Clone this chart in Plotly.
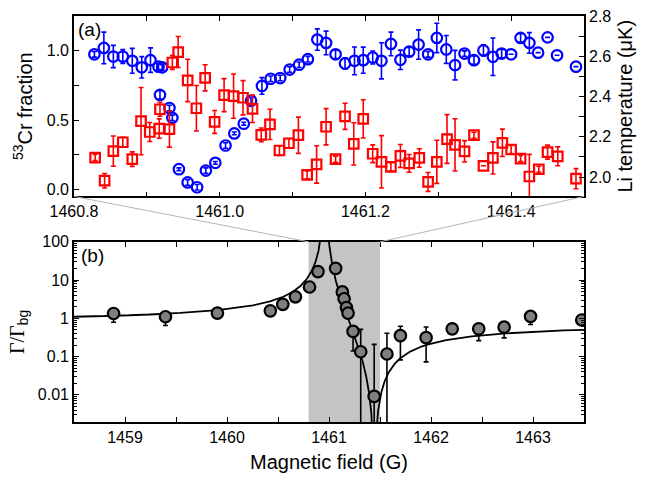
import numpy as np
import plotly.graph_objects as go

# ---------------- (a) zoom on the resonance region ----------------
field_cr = [1460.828, 1460.841, 1460.854, 1460.867, 1460.880, 1460.893, 1460.905, 1460.916,
            1460.921, 1460.918, 1460.931, 1460.935, 1460.944, 1460.956, 1460.969, 1460.981,
            1460.994, 1461.008, 1461.020, 1461.033, 1461.043, 1461.058, 1461.070, 1461.083,
            1461.096, 1461.109, 1461.121, 1461.134, 1461.146, 1461.159, 1461.172, 1461.185,
            1461.197, 1461.210, 1461.222, 1461.235, 1461.248, 1461.260, 1461.273, 1461.286,
            1461.298, 1461.311, 1461.323, 1461.336, 1461.349, 1461.362, 1461.375, 1461.387,
            1461.400, 1461.413, 1461.425, 1461.437, 1461.450, 1461.463, 1461.489]
cr_fraction = [0.974, 1.020, 0.958, 0.958, 0.927, 0.880, 0.932, 0.885,
               0.880, 0.681, 0.587, 0.516, 0.146, 0.051, 0.016, 0.136,
               0.192, 0.317, 0.404, 0.474, 0.639, 0.746, 0.798, 0.803,
               0.864, 0.899, 0.939, 1.080, 1.056, 0.974, 0.908, 0.927,
               0.932, 0.951, 0.927, 1.049, 0.934, 0.993, 1.044, 0.974,
               1.092, 1.009, 0.896, 0.979, 0.932, 1.002, 0.956, 0.979,
               0.974, 1.092, 1.056, 0.986, 1.096, 0.967, 0.885]
cr_fraction_err = [0.02, 0.114, 0.08, 0.05, 0.09, 0.077, 0.088, 0.02,
                   0.02, 0.03, 0.02, 0.02, 0.01, 0.02, 0.02, 0.02,
                   0.01, 0.02, 0.01, 0.01, 0.02, 0.06, 0.02, 0.02,
                   0.02, 0.02, 0.02, 0.077, 0.085, 0.03, 0.04, 0.10,
                   0.094, 0.047, 0.13, 0.085, 0.07, 0.03, 0.106, 0.02,
                   0.106, 0.10, 0.106, 0.02, 0.03, 0.04, 0.135, 0.03,
                   0.0, 0.03, 0.074, 0.0, 0.0, 0.0, 0.0]

field_li = [1460.829, 1460.842, 1460.854, 1460.867, 1460.880, 1460.892, 1460.904, 1460.917,
            1460.918, 1460.931, 1460.935, 1460.943, 1460.956, 1460.968, 1460.980, 1460.993,
            1461.006, 1461.019, 1461.032, 1461.045, 1461.057, 1461.069, 1461.082, 1461.095,
            1461.108, 1461.120, 1461.133, 1461.146, 1461.159, 1461.172, 1461.184, 1461.197,
            1461.210, 1461.222, 1461.235, 1461.248, 1461.260, 1461.274, 1461.286, 1461.298,
            1461.312, 1461.323, 1461.336, 1461.349, 1461.362, 1461.375, 1461.388, 1461.400,
            1461.413, 1461.425, 1461.438, 1461.450, 1461.464, 1461.489]
li_temp = [2.097, 1.982, 2.129, 2.173, 2.089, 2.278, 2.224, 2.241,
           2.337, 2.238, 2.569, 2.621, 2.480, 2.342, 2.493, 2.274,
           2.407, 2.402, 2.394, 2.339, 2.210, 2.262, 2.132, 2.168,
           2.208, 2.011, 2.063, 2.250, 2.089, 2.302, 2.165, 2.289,
           2.116, 2.076, 2.051, 2.105, 2.068, 2.095, 1.976, 2.076,
           2.189, 2.160, 2.128, 2.208, 2.056, 2.095, 2.170, 2.137,
           2.092, 2.003, 2.039, 2.124, 2.103, 1.992]
li_temp_err = [0.015, 0.036, 0.075, 0.025, 0.036, 0.167, 0.047, 0.048,
               0.035, 0.089, 0.034, 0.077, 0.105, 0.113, 0.065, 0.057,
               0.082, 0.11, 0.085, 0.068, 0.034, 0.075, 0.024, 0.024,
               0.09, 0.02, 0.093, 0.09, 0.015, 0.065, 0.105, 0.095,
               0.044, 0.13, 0.02, 0.057, 0.044, 0.046, 0.047, 0.107,
               0.121, 0.13, 0.053, 0.015, 0.0, 0.08, 0.068, 0.02,
               0.015, 0.11, 0.015, 0.035, 0.047, 0.05]

# ---------------- (b) loss rate over the wide scan ----------------
field_rate = [1458.888, 1459.397, 1459.906, 1460.425, 1460.547, 1460.671, 1460.809, 1460.892,
              1461.065, 1461.131, 1461.148, 1461.171, 1461.187, 1461.236, 1461.311, 1461.443,
              1461.568, 1461.700, 1461.952, 1462.208, 1462.468, 1462.717, 1462.976, 1463.478]
rate_ratio = [1.34, 1.10, 1.37, 1.57, 2.33, 3.66, 6.6, 16.7,
              20.3, 4.9, 3.26, 1.91, 1.37, 0.455, 0.134, 0.0091,
              0.117, 0.352, 0.313, 0.532, 0.532, 0.588, 1.12, 0.905]
rate_err_up = [0.4, 0.3, 0.15, 0.3, 0.4, 0.7, 1.2, 3.0,
               3.0, 0.8, 0.6, 0.3, 0.3, 0.135, 0.38, 0.2,
               0.29, 0.27, 0.28, 0.1, 0.19, 0.12, 0.2, 0.1]
rate_err_down = [0.55, 0.45, 0.15, 0.3, 0.4, 0.7, 1.2, 3.0,
                 3.0, 0.8, 0.6, 0.3, 0.3, 0.315, 0.2, 0.02,
                 0.2, 0.27, 0.24, 0.1, 0.27, 0.28, 0.43, 0.1]

# fit: Gamma/Gamma_bg = c * (1 - Delta / (B - B0))^2
fit_B0 = 1460.96
fit_delta = 0.485
fit_scale = 0.768

rate_ticks = [0.01, 0.1, 1, 10, 100]
rate_ticktext = ["0.01", "0.1", "1", "10", "100"]

FONT = "Liberation Sans, Arial, Helvetica, sans-serif"
W, H = 647, 480
ML, MR, MT, MB = 74, 63, 8, 58
TOP_DOM = [0.5556, 1.0]
BOT_DOM = [0.0, 0.4437]
xb_range = [1458.5, 1463.5]
xa_range = [1460.8, 1461.5]

fig = go.Figure()

# (a) 53Cr fraction, blue open circles
fig.add_trace(go.Scatter(
    x=field_cr, y=cr_fraction, mode="markers", xaxis="x", yaxis="y",
    marker=dict(symbol="circle-open", size=10.5, color="#0000ff", line=dict(width=2.2, color="#0000ff")),
    error_y=dict(type="data", array=cr_fraction_err, color="#0000ff", thickness=1.6, width=2.5),
    showlegend=False))

# (a) Li temperature, red open squares
fig.add_trace(go.Scatter(
    x=field_li, y=li_temp, mode="markers", xaxis="x", yaxis="y2",
    marker=dict(symbol="square-open", size=9.5, color="#ff0000", line=dict(width=2.2, color="#ff0000")),
    error_y=dict(type="data", array=li_temp_err, color="#ff0000", thickness=1.6, width=2.5),
    showlegend=False))

# (b) fit curve
B = np.linspace(xb_range[0], xb_range[1], 6001)
dB = B - fit_B0
dB = np.where(np.abs(dB) < 1e-6, 1e-6, dB)
fit_curve = fit_scale * (1 - fit_delta / dB) ** 2
fig.add_trace(go.Scatter(
    x=B, y=fit_curve, mode="lines", xaxis="x2", yaxis="y3",
    line=dict(color="black", width=1.8), showlegend=False, hoverinfo="skip"))

# (b) measured ratio
fig.add_trace(go.Scatter(
    x=field_rate, y=rate_ratio, mode="markers", xaxis="x2", yaxis="y3",
    marker=dict(symbol="circle", size=11.5, color="#7f7f7f", line=dict(width=2.2, color="black")),
    error_y=dict(type="data", symmetric=False, array=rate_err_up, arrayminus=rate_err_down,
                 color="black", thickness=1.6, width=2.5),
    showlegend=False))

tick_font = dict(family=FONT, size=16, color="black")
title_font = dict(family=FONT, size=20, color="black")

common = dict(showline=True, linecolor="black", linewidth=1.6, ticks="inside",
              tickcolor="black", tickwidth=1.3, showgrid=False, zeroline=False,
              tickfont=tick_font)

minor_log = [m * 10.0 ** e for e in range(-3, 2) for m in range(2, 10)]

fig.update_layout(
    width=W, height=H,
    margin=dict(l=ML, r=MR, t=MT, b=MB),
    paper_bgcolor="white", plot_bgcolor="white",
    xaxis=dict(domain=[0, 1], anchor="y", range=xa_range,
               tickvals=[1460.8, 1461.0, 1461.2, 1461.4],
               ticktext=["1460.8", "1461.0", "1461.2", "1461.4"],
               ticklen=5, mirror="allticks",
               minor=dict(tickvals=[1460.9, 1461.1, 1461.3], ticks="inside", ticklen=5,
                          tickcolor="black", tickwidth=1.3),
               **common),
    yaxis=dict(domain=TOP_DOM, anchor="x", range=[-0.05, 1.25],
               tickvals=[0.0, 0.5, 1.0], ticktext=["0.0", "0.5", "1.0"], ticklen=5,
               minor=dict(tickvals=[0.25, 0.75], ticks="inside", ticklen=5,
                          tickcolor="black", tickwidth=1.3),
               title=dict(text="<sup>53</sup>Cr fraction", font=title_font, standoff=9),
               **common),
    yaxis2=dict(overlaying="y", anchor="x", side="right", range=[1.904, 2.8],
                tickvals=[2.0, 2.2, 2.4, 2.6, 2.8], ticklen=5,
                tickformat=".1f",
                minor=dict(tickvals=[2.1, 2.3, 2.5, 2.7], ticks="inside", ticklen=5,
                           tickcolor="black", tickwidth=1.3),
                title=dict(text="Li temperature (\u03bcK)", font=title_font, standoff=8),
                **common),
    xaxis2=dict(domain=[0, 1], anchor="y3", range=xb_range,
                tickvals=[1459, 1460, 1461, 1462, 1463], ticklen=5, mirror="allticks",
                minor=dict(tickvals=[1458.5, 1459.5, 1460.5, 1461.5, 1462.5, 1463.5],
                           ticks="inside", ticklen=5, tickcolor="black", tickwidth=1.3),
                title=dict(text="Magnetic field (G)", font=title_font, standoff=10),
                **common),
    yaxis3=dict(domain=BOT_DOM, anchor="x2", type="log",
                range=[np.log10(0.00195), 2.0],
                tickvals=rate_ticks, ticktext=rate_ticktext, ticklen=5, mirror="allticks",
                minor=dict(tickvals=minor_log, ticks="inside", ticklen=3,
                           tickcolor="black", tickwidth=1),
                title=dict(text='<span style="font-family:Liberation Serif, Times New Roman, serif">\u0393/\u0393</span><sub>bg</sub>',
                           font=title_font, standoff=8),
                **common),
)

# shaded field window shown in (a)
fig.add_shape(type="rect", xref="x2", yref="y3 domain",
              x0=xa_range[0], x1=xa_range[1], y0=0, y1=1,
              fillcolor="#c4c4c4", line=dict(width=0), layer="below")

# guide lines linking (a) to the shaded window in (b)
xb_span = xb_range[1] - xb_range[0]
for xa_end, xb_end in [(0.0, xa_range[0]), (1.0, xa_range[1])]:
    fig.add_shape(type="line", xref="paper", yref="paper",
                  x0=xa_end, y0=TOP_DOM[0],
                  x1=(xb_end - xb_range[0]) / xb_span, y1=BOT_DOM[1],
                  line=dict(color="#b4b4b4", width=1))

# panel labels
fig.add_annotation(text="(a)", xref="x domain", yref="y domain", x=0.004, y=0.925,
                   xanchor="left", yanchor="middle", showarrow=False,
                   font=dict(family=FONT, size=19, color="black"))
fig.add_annotation(text="(b)", xref="x2 domain", yref="y3 domain", x=0.01, y=0.925,
                   xanchor="left", yanchor="middle", showarrow=False,
                   font=dict(family=FONT, size=19, color="black"))

fig.write_html("out.html")
